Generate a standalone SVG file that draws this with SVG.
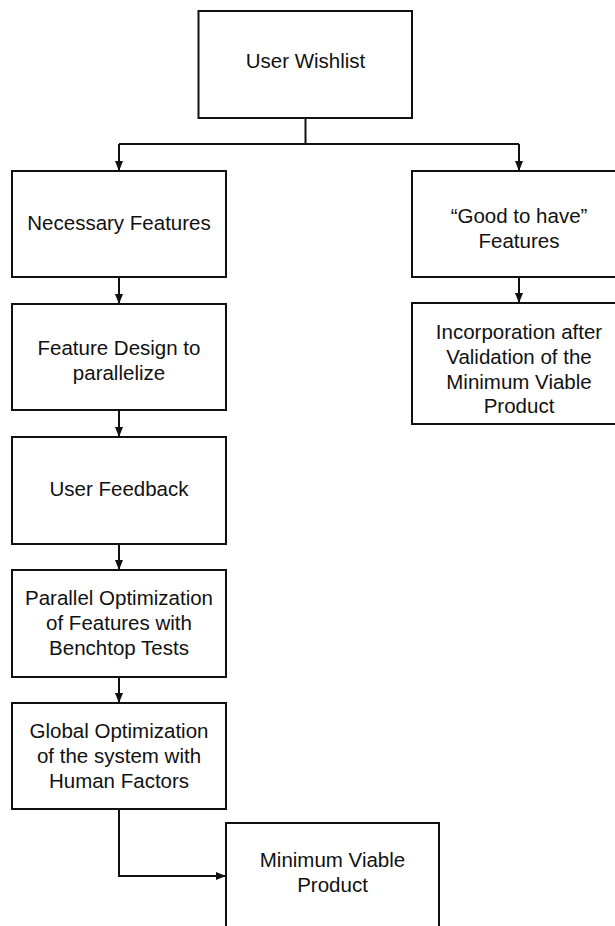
<svg xmlns="http://www.w3.org/2000/svg" width="615" height="926" viewBox="0 0 615 926">
<style>
.box{fill:#fff;stroke:#111;stroke-width:2}
.lbl{font-family:"Liberation Sans",Arial,sans-serif;font-size:20.5px;fill:#111;text-anchor:middle}
.conn{fill:none;stroke:#111;stroke-width:2}
</style>
<defs>
<marker id="arr" markerUnits="userSpaceOnUse" markerWidth="10" markerHeight="10" viewBox="0 0 10 10" refX="10" refY="5" orient="auto">
<path d="M0,1 L10,5 L0,9 Z" fill="#111"/>
</marker>
</defs>
<rect width="615" height="926" fill="#fff"/>
<g id="connectors">
<path class="conn" d="M305.5,118 V144 M119,144 H519"/>
<path class="conn" d="M119,144 V171" marker-end="url(#arr)"/>
<path class="conn" d="M519,144 V171" marker-end="url(#arr)"/>
<path class="conn" d="M119,277 V304" marker-end="url(#arr)"/>
<path class="conn" d="M119,410 V437" marker-end="url(#arr)"/>
<path class="conn" d="M119,544 V570" marker-end="url(#arr)"/>
<path class="conn" d="M119,677 V703" marker-end="url(#arr)"/>
<path class="conn" d="M519,277 V303" marker-end="url(#arr)"/>
<path class="conn" d="M119,809 V876 H226" marker-end="url(#arr)"/>
</g>
<g id="user-wishlist">
<rect class="box" x="198.5" y="11" width="213.5" height="107"/>
<text class="lbl" x="305.5" y="68">User Wishlist</text>
</g>
<g id="necessary-features">
<rect class="box" x="12" y="171" width="214" height="106"/>
<text class="lbl" x="119" y="230">Necessary Features</text>
</g>
<g id="feature-design">
<rect class="box" x="12" y="304" width="214" height="106"/>
<text class="lbl" x="119" y="355">Feature Design to</text>
<text class="lbl" x="119" y="380">parallelize</text>
</g>
<g id="user-feedback">
<rect class="box" x="12" y="437" width="214" height="107"/>
<text class="lbl" x="119" y="496">User Feedback</text>
</g>
<g id="parallel-optimization">
<rect class="box" x="12" y="570" width="214" height="107"/>
<text class="lbl" x="119" y="605">Parallel Optimization</text>
<text class="lbl" x="119" y="630">of Features with</text>
<text class="lbl" x="119" y="655">Benchtop Tests</text>
</g>
<g id="global-optimization">
<rect class="box" x="12" y="703" width="214" height="106"/>
<text class="lbl" x="119" y="738">Global Optimization</text>
<text class="lbl" x="119" y="763">of the system with</text>
<text class="lbl" x="119" y="788">Human Factors</text>
</g>
<g id="minimum-viable-product">
<rect class="box" x="226" y="823" width="213" height="107"/>
<text class="lbl" x="332.5" y="867">Minimum Viable</text>
<text class="lbl" x="332.5" y="892">Product</text>
</g>
<g id="good-to-have">
<rect class="box" x="412" y="171" width="214" height="106"/>
<text class="lbl" x="519" y="223">“Good to have”</text>
<text class="lbl" x="519" y="248">Features</text>
</g>
<g id="incorporation">
<rect class="box" x="412" y="303" width="214" height="121"/>
<text class="lbl" x="519" y="339">Incorporation after</text>
<text class="lbl" x="519" y="364">Validation of the</text>
<text class="lbl" x="519" y="389">Minimum Viable</text>
<text class="lbl" x="519" y="413">Product</text>
</g>
</svg>
